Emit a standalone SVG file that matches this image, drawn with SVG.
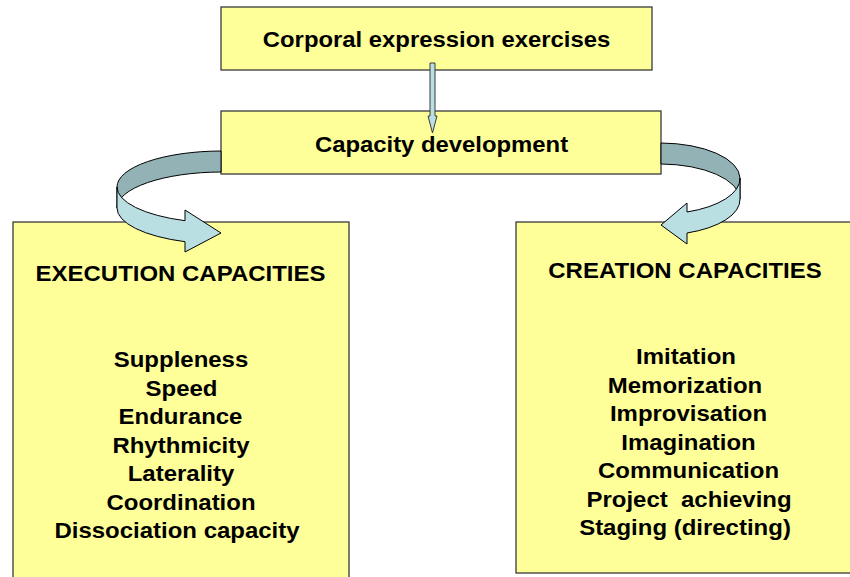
<svg xmlns="http://www.w3.org/2000/svg" width="850" height="577" viewBox="0 0 850 577">
<style>
.box{fill:#ffff99;stroke:#3a3a3a;stroke-width:1.3}
.t{font-family:"Liberation Sans",Arial,sans-serif;font-weight:bold;font-size:22px;fill:#000;text-anchor:middle}
.dark{fill:#93b2b5;stroke:#000;stroke-width:1}
.light{fill:#b9dfe3;stroke:#000;stroke-width:1}
.down{fill:#b9dfe3;stroke:#3a3a3a;stroke-width:1}
</style>
<rect width="850" height="577" fill="#fff"/>
<g id="node-top">
<rect class="box" x="221" y="7" width="431" height="63"/>
<text class="t" transform="translate(436.5,47) scale(1.085,1)">Corporal expression exercises</text>
</g>
<g id="node-middle">
<rect class="box" x="221" y="111" width="440" height="63"/>
<text class="t" transform="translate(441.5,152) scale(1.085,1)">Capacity development</text>
</g>
<g id="node-execution">
<rect class="box" x="13" y="222" width="336" height="380"/>
<text class="t" transform="translate(180.5,281) scale(1.09,1)">EXECUTION CAPACITIES</text>
<text class="t" transform="translate(181,367) scale(1.09,1)">Suppleness</text>
<text class="t" transform="translate(181.5,395.5) scale(1.09,1)">Speed</text>
<text class="t" transform="translate(180.5,424) scale(1.09,1)">Endurance</text>
<text class="t" transform="translate(181,452.5) scale(1.09,1)">Rhythmicity</text>
<text class="t" transform="translate(181,481) scale(1.09,1)">Laterality</text>
<text class="t" transform="translate(181,509.5) scale(1.09,1)">Coordination</text>
<text class="t" transform="translate(177,538) scale(1.09,1)">Dissociation capacity</text>
</g>
<g id="node-creation">
<rect class="box" x="516" y="222" width="345" height="351"/>
<text class="t" transform="translate(685,278) scale(1.09,1)">CREATION CAPACITIES</text>
<text class="t" transform="translate(686,364) scale(1.09,1)">Imitation</text>
<text class="t" transform="translate(685,392.5) scale(1.09,1)">Memorization</text>
<text class="t" transform="translate(688.5,421) scale(1.09,1)">Improvisation</text>
<text class="t" transform="translate(688.5,449.5) scale(1.09,1)">Imagination</text>
<text class="t" transform="translate(688.5,478) scale(1.09,1)">Communication</text>
<text class="t" transform="translate(689,506.5) scale(1.09,1)" xml:space="preserve">Project  achieving</text>
<text class="t" transform="translate(685,535) scale(1.09,1)">Staging (directing)</text>
</g>
<g id="connectors">
<path class="down" d="M430,63 L435,63 L435,116 L437,116 L432.5,133 L428,116 L430,116 Z"/>
<path class="dark" d="M221,151 A105,36 0 0 0 117,187 L117,208 A105,36 0 0 1 221,172 Z"/>
<path class="light" d="M117,187 A105,36 0 0 0 185,220.7 L185,210 L221,233 L185,252 L185,241.7 A105,36 0 0 1 117,208 Z"/>
<path class="dark" d="M661,143 A80,35.5 0 0 1 740,178 L740,199 A80,35.5 0 0 0 661,164 Z"/>
<path class="light" d="M740,178 A80,35.5 0 0 1 687,212 L687,203 L661,225 L687,244 L687,233 A80,35.5 0 0 0 740,199 Z"/>
</g>
</svg>
